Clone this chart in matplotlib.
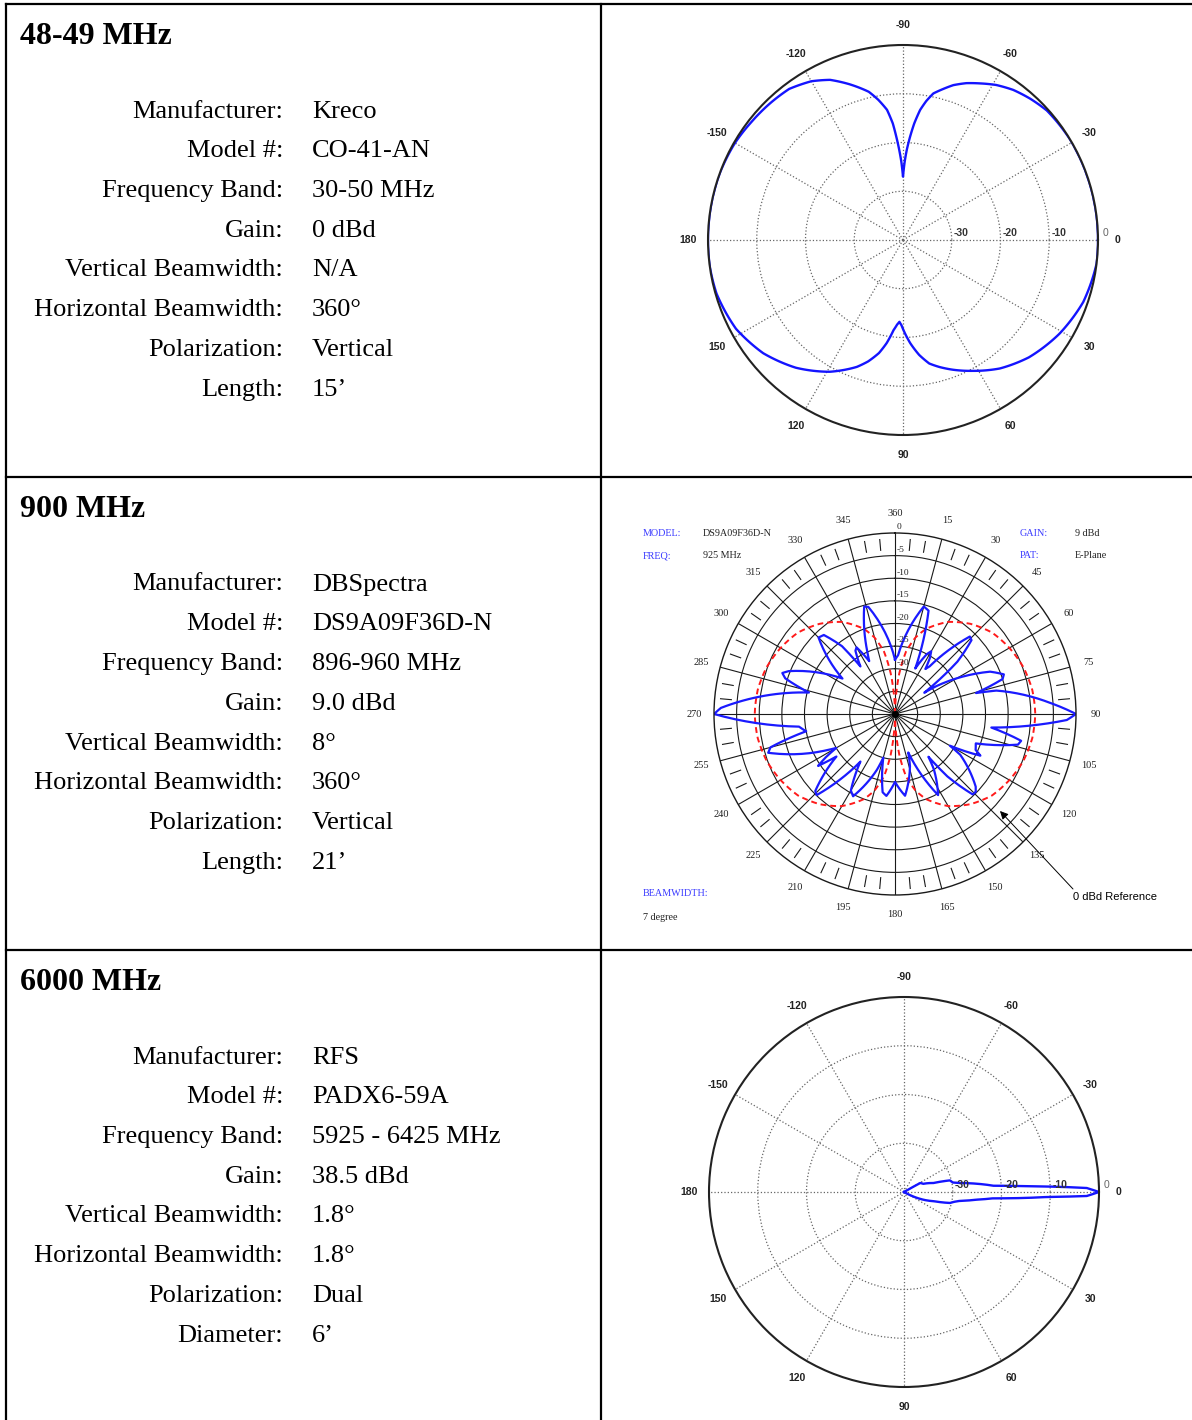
import numpy as np
import matplotlib
matplotlib.use('Agg')
import matplotlib.pyplot as plt

W, H = 1192, 1420

# ---- table text ----
titles = ['48-49 MHz', '900 MHz', '6000 MHz']
labels_1 = ['Manufacturer:', 'Model #:', 'Frequency Band:', 'Gain:', 'Vertical Beamwidth:',
            'Horizontal Beamwidth:', 'Polarization:', 'Length:']
labels_2 = labels_1
labels_3 = labels_1[:7] + ['Diameter:']
values_1 = ['Kreco', 'CO-41-AN', '30-50 MHz', '0 dBd', 'N/A', '360°', 'Vertical', '15’']
values_2 = ['DBSpectra', 'DS9A09F36D-N', '896-960 MHz', '9.0 dBd', '8°', '360°', 'Vertical', '21’']
values_3 = ['RFS', 'PADX6-59A', '5925 - 6425 MHz', '38.5 dBd', '1.8°', '1.8°', 'Dual', '6’']

# ---- 48-49 MHz pattern (deg, 0 = right, clockwise) ----
pat1_deg = [0, 7, 19, 31, 43, 53, 62, 69, 74, 78, 82, 86, 89, 91, 92.5, 94, 96, 99, 102, 106, 110,
            119, 130, 141, 152, 164, 172,
            180, 190, 200, 210, 218, 226, 233, 240, 245.5, 251, 257, 260, 263, 265, 266.3, 267.6,
            268.8, 270, 271.2, 272.4, 273.9, 275.5, 277.5, 279.5, 281.7, 285, 288, 292, 296.2,
            301, 306.3, 312, 318, 329, 345, 360]
pat1_db = [0, 0, -0.9, -2.6, -4.7, -7, -9.6, -11.5, -12.9, -14.1, -16.2, -18.8, -21, -22.5, -23.2,
           -22.6, -21.4, -18.6, -16.3, -14.1, -12.3,
           -9.1, -5.8, -3.1, -1.2, -0.2, 0,
           0, 0, 0, -0.2, -0.6, -0.9, -1.2, -2.4, -3.9, -6.2, -8.8, -10.8, -13.1, -16, -18.8,
           -21.5, -24, -27, -24, -21.5, -18.8, -16, -13.1, -11.1, -9.3, -7.9, -6.6, -5.3, -4.2,
           -2.9, -1.8, -1.0, -0.3, 0, 0, 0]

# ---- 900 MHz pattern (deg, 0 = top, clockwise) ----
pat2_deg = [0, 3, 6, 9, 12, 15, 18, 20, 22, 24, 26, 28, 30, 32, 34, 36, 38, 40, 42, 44, 46, 48, 50,
            52, 54, 56, 58, 60, 62, 64, 66, 68, 70, 72, 74, 75.5, 77, 80, 82, 84, 86, 88, 90, 92, 94,
            96, 98, 100, 102, 104, 106, 108, 110, 112, 114, 116, 118, 120, 122, 124, 126, 128, 130,
            132, 134, 136, 138, 140, 142, 145, 148, 150, 152, 155, 158, 161, 164, 167, 170, 173, 176,
            180, 183, 186, 189, 192, 195, 198, 201, 204, 207, 210, 213, 216, 218, 220, 222, 224, 226,
            228, 230, 232, 234, 236, 238, 240, 242, 245, 248, 251, 253, 255, 257, 259, 261, 262.5,
            264, 266, 268, 270, 272, 274, 276, 278, 280, 282, 284, 286, 288, 290, 292, 294, 296, 298,
            300, 302, 304, 306, 308, 310, 312, 315, 318, 320, 322, 324, 326, 328, 330, 332, 334, 336,
            338, 341, 344, 346, 348, 350, 352, 355, 360]
pat2_db = [-28, -27, -23, -19, -16.5, -15.4, -16, -19, -26, -29, -27, -25, -24, -25.5, -28, -27,
           -21, -18, -16.8, -16.2, -16.5, -18, -22, -28, -32, -29, -24, -19, -18.4, -20, -17, -15,
           -14.4, -15, -19, -21.5, -17, -14.5, -12.5, -9.5, -5.5, -2, 0, -2, -6.5, -12, -18.5,
           -15, -11.5, -12, -16, -20, -21, -19.5, -20.5, -19, -23, -26, -23, -19.5, -22, -20,
           -17.5, -16, -15.2, -15.3, -17, -22, -28, -25, -21, -19.8, -19.7, -22, -27, -31, -28,
           -24.5, -22.5, -21.8, -23,
           -25, -23, -21.8, -22.5, -26, -30, -27, -23, -20.5, -19.6, -20.5, -25, -27, -22, -18,
           -16, -15.1, -15.5, -18, -24, -21, -24, -19.5, -22, -25, -23, -20, -20.5, -14, -10.7,
           -11.5, -15, -20, -19, -18.6, -11.3, -6, -1.5, 0, -1.5, -4, -9.8, -14.5, -17, -19,
           -20.4, -17, -14.5, -13.5, -14.7, -18, -20, -18.2, -19, -22, -26, -23, -19, -17.5, -16.6,
           -16.1, -16.5, -18, -21, -27, -25, -23.5, -23, -24.5, -27, -25, -20, -16.5, -15.3, -15.6,
           -17.5, -21, -25, -27, -28]

# 0 dBd reference (dipole) curve
ref_deg = [0, 3, 6, 10, 15, 20, 30, 40, 50, 60, 70, 80, 90, 100, 110, 120, 130, 140, 150, 160, 165,
           170, 174, 177, 180, 183, 186, 190, 195, 200, 210, 220, 230, 240, 250, 260, 270, 280, 290,
           300, 310, 320, 330, 340, 345, 350, 354, 357, 360]
ref_db = [-40, -36, -31, -26, -22.5, -20, -16.5, -14, -12, -10.8, -9.8, -9.2, -9, -9.2, -9.8, -10.8,
          -12, -14, -16.5, -20, -22.5, -26, -31, -36, -40, -36, -31, -26, -22.5, -20, -16.5, -14,
          -12, -10.8, -9.8, -9.2, -9, -9.2, -9.8, -10.8, -12, -14, -16.5, -20, -22.5, -26, -31,
          -36, -40]

# ---- 6000 MHz pattern (deg, 0 = right, clockwise) ----
pat3_deg = [330, 331, 337, 343, 345.8, 349, 350.9, 353.5, 356, 357.1, 357.8, 358.75, 360,
            361.25, 362, 363, 364, 366, 369, 371, 373.4, 377, 381.7, 390]
pat3_db = [-40, -36.2, -35.7, -33.7, -30.3, -29.8, -28.4, -25, -21.6, -16.2, -10.7, -2.5, 0,
           -2.5, -10.7, -16.2, -21.6, -25, -28.4, -29.5, -30.3, -33.5, -35.7, -40]

fig = plt.figure(figsize=(W / 100, H / 100), dpi=100)
bg = fig.add_axes([0, 0, 1, 1])
bg.set_xlim(0, W)
bg.set_ylim(H, 0)
bg.axis('off')

# table lines
lw = 1.6
bg.plot([6, W], [4, 4], color='black', lw=lw)
bg.plot([6, 6], [4, H], color='black', lw=lw)
bg.plot([601, 601], [4, H], color='black', lw=lw)
for y in [477, 950]:
    bg.plot([6, W], [y, y], color='black', lw=lw)

serif = 'Liberation Serif'
sans = 'Liberation Sans'
blocks = [(labels_1, values_1), (labels_2, values_2), (labels_3, values_3)]
for i, (labs, vals) in enumerate(blocks):
    off = i * 473
    bg.text(20, 44 + off, titles[i], family=serif, fontsize=23, fontweight='bold',
            ha='left', va='baseline')
    for j, (lab, val) in enumerate(zip(labs, vals)):
        y = 117.5 + off + j * 39.75
        bg.text(283, y, lab, family=serif, fontsize=19, ha='right', va='baseline')
        bg.text(312, y, val, family=serif, fontsize=19, ha='left', va='baseline')


def polar_ax(cx, cy, R):
    ax = fig.add_axes([(cx - R) / W, 1 - (cy + R) / H, 2 * R / W, 2 * R / H], projection='polar')
    ax.patch.set_alpha(0)
    return ax


def smooth_line(line):
    # let the polar transform bend each segment along theta
    line.get_path()._interpolation_steps = 16
    return line


# ---- plots 1 and 3 (matlab style) ----
mat_labels = ['0', '30', '60', '90', '120', '150', '180', '-150', '-120', '-90', '-60', '-30']


def matlab_polar(cx, cy, deg, db):
    ax = polar_ax(cx, cy, 195)
    ax.set_theta_zero_location('E')
    ax.set_theta_direction(-1)
    ax.set_ylim(-40, 0)
    ax.set_xticks(np.deg2rad(np.arange(0, 360, 30)))
    ax.set_xticklabels([])
    ax.set_yticks([-30, -20, -10])
    ax.set_yticklabels([])
    ax.grid(True, color='#666666', linestyle=':', lw=0.9)
    ax.spines['polar'].set_linewidth(1.5)
    ax.spines['polar'].set_color('#222222')
    line, = ax.plot(np.deg2rad(deg), db, color='#1414ff', lw=1.7)
    smooth_line(line)
    for a, s in zip(range(0, 360, 30), mat_labels):
        ax.text(np.deg2rad(a), 4.1, s, family=sans, fontsize=7.5, fontweight='bold',
                ha='center', va='center', color='#222222')
    for r, s in zip([-30, -20, -10, 0], ['-30', '-20', '-10', '0']):
        ax.annotate(s, xy=(0, r), xytext=(1.5 if r < 0 else 3, 1.5), textcoords='offset points',
                    family=sans, fontsize=7.5, fontweight='bold' if r < 0 else 'normal',
                    ha='left', va='bottom', color='#333333' if r < 0 else '#666666')
    return ax


matlab_polar(903, 240, pat1_deg, pat1_db)
matlab_polar(904, 1192, pat3_deg, pat3_db)

# ---- plot 2 ----
ax2 = polar_ax(895, 714, 181)
ax2.set_theta_zero_location('N')
ax2.set_theta_direction(-1)
ax2.set_ylim(-40, 0)
ax2.set_xticks(np.deg2rad(np.arange(0, 360, 15)))
ax2.set_xticklabels([])
ax2.set_yticks(np.arange(-35, 0, 5))
ax2.set_yticklabels([])
ax2.grid(True, color='#1a1a1a', linestyle='-', lw=0.8)
ax2.spines['polar'].set_linewidth(1.0)
ax2.spines['polar'].set_color('#1a1a1a')
for a in range(0, 360, 5):
    if a % 15:
        ax2.plot([np.deg2rad(a)] * 2, [-1.3, -3.7], color='#1a1a1a', lw=0.8)
ref_line, = ax2.plot(np.deg2rad(ref_deg), ref_db, color='#ff1a1a', lw=1.4, linestyle=(0, (3, 2)))
smooth_line(ref_line)
pat2_line, = ax2.plot(np.deg2rad(pat2_deg), pat2_db, color='#1a1aff', lw=1.6)
smooth_line(pat2_line)
ax2.plot([0], [-40], 'o', color='black', ms=4)
for a in range(0, 360, 15):
    ax2.text(np.deg2rad(a), 4.3, '360' if a == 0 else str(a), family=serif, fontsize=7.5,
             ha='center', va='center', color='#222222')
for r in range(0, -35, -5):
    ax2.annotate(str(r), xy=(0, r), xytext=(1.2, 1.2), textcoords='offset points', family=serif,
                 fontsize=6.8, ha='left', va='bottom', color='#222222')

blue_txt = '#3a3aff'
hdr = dict(family=serif, fontsize=7.3, va='center', ha='left')
bg.text(643, 533, 'MODEL:', color=blue_txt, **hdr)
bg.text(703, 533, 'DS9A09F36D-N', color='#222222', **hdr)
bg.text(643, 556, 'FREQ:', color=blue_txt, **hdr)
bg.text(703, 556, '925 MHz', color='#222222', **hdr)
bg.text(1020, 533, 'GAIN:', color=blue_txt, **hdr)
bg.text(1075, 533, '9 dBd', color='#222222', **hdr)
bg.text(1020, 556, 'PAT:', color=blue_txt, **hdr)
bg.text(1075, 556, 'E-Plane', color='#222222', **hdr)
bg.text(643, 894, 'BEAMWIDTH:', color=blue_txt, **hdr)
bg.text(643, 918, '7 degree', color='#222222', **hdr)
bg.text(1073, 897, '0 dBd Reference', family=sans, fontsize=8, ha='left', va='center')
ax2.annotate('', xy=(1000 / W, 1 - 811 / H), xycoords='figure fraction',
             xytext=(1073 / W, 1 - 889 / H), textcoords='figure fraction',
             arrowprops=dict(arrowstyle='-|>', color='black', lw=0.7, mutation_scale=12,
                             shrinkA=0, shrinkB=0))

fig.savefig('out.png', dpi=100)
